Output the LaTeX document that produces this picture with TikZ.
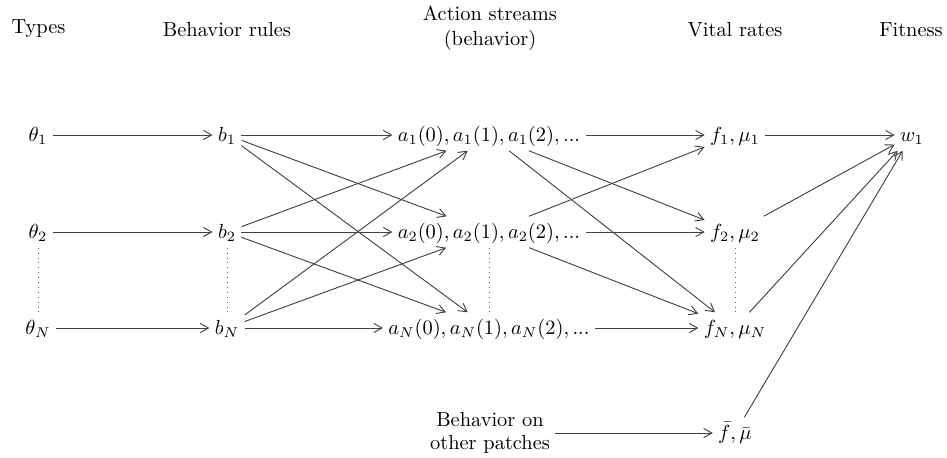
\documentclass[tikz,border=0pt]{standalone}
\usetikzlibrary{arrows.meta}
\begin{document}
\begin{tikzpicture}[x=0.49pt,y=-0.49pt,
  m/.style={inner sep=2.5pt, text height=8pt, text depth=2pt},
  hd/.style={anchor=base, inner sep=0pt},
  arr/.style={-{Straight Barb[length=4pt,width=4.5pt]}, line width=0.45pt, draw=black!75},
  dots/.style={dotted, line width=0.4pt, draw=black!60}]
\useasboundingbox (0,0) rectangle (947,457);
% headers
\node[hd] (h1) at (38.5,33) {Types};
\node[hd] (h2) at (227,36) {Behavior rules};
\node[align=center, inner sep=0pt] (h3) at (490,28) {Action streams\\(behavior)};
\node[hd] (h4) at (735,36) {Vital rates};
\node[hd] (h5) at (911,36) {Fitness};
% column 1
\node[m] (t1) at (38,135) {$\theta_1$};
\node[m] (t2) at (38,232) {$\theta_2$};
\node[m] (tN) at (38,328) {$\theta_N$};
% column 2
\node[m] (b1) at (227,135) {$b_1$};
\node[m] (b2) at (227,232) {$b_2$};
\node[m] (bN) at (227,328) {$b_N$};
% column 3
\node[m] (a1) at (489,135) {$a_1(0),a_1(1),a_1(2),...$};
\node[m] (a2) at (489,232) {$a_2(0),a_2(1),a_2(2),...$};
\node[m] (aN) at (489,328) {$a_N(0),a_N(1),a_N(2),...$};
% column 4
\node[m] (f1) at (735,135) {$f_1,\mu_1$};
\node[m] (f2) at (735,232) {$f_2,\mu_2$};
\node[m] (fN) at (735,328) {$f_N,\mu_N$};
% fitness
\node[m] (w1) at (912,135) {$w_1$};
% bottom
\node[align=center, inner sep=2.5pt] (ob) at (490,433) {Behavior on\\[-1pt]other patches};
\node[m] (fb) at (735,433) {$\bar{f},\bar{\mu}$};
% arrows
\draw[arr] (t1) -- (b1);
\draw[arr] (t2) -- (b2);
\draw[arr] (tN) -- (bN);
\foreach \s in {b1,b2,bN}{
  \foreach \t in {a1,a2,aN}{
    \draw[arr] (\s) -- (\t);
  }
}
\foreach \t in {f1,f2,fN}{
  \draw[arr] (a1) -- (\t);
  \draw[arr] (a2) -- (\t);
}
\draw[arr] (aN) -- (fN);
\draw[arr] (f1) -- (w1);
\draw[arr] (f2) -- (w1);
\draw[arr] (fN) -- (w1);
\draw[arr] (fb) -- (w1);
\draw[arr] (ob) -- (fb);
% dotted
\draw[dots] (t2) -- (tN);
\draw[dots] (b2) -- (bN);
\draw[dots] (a2) -- (aN);
\draw[dots] (f2) -- (fN);
\end{tikzpicture}
\end{document}
